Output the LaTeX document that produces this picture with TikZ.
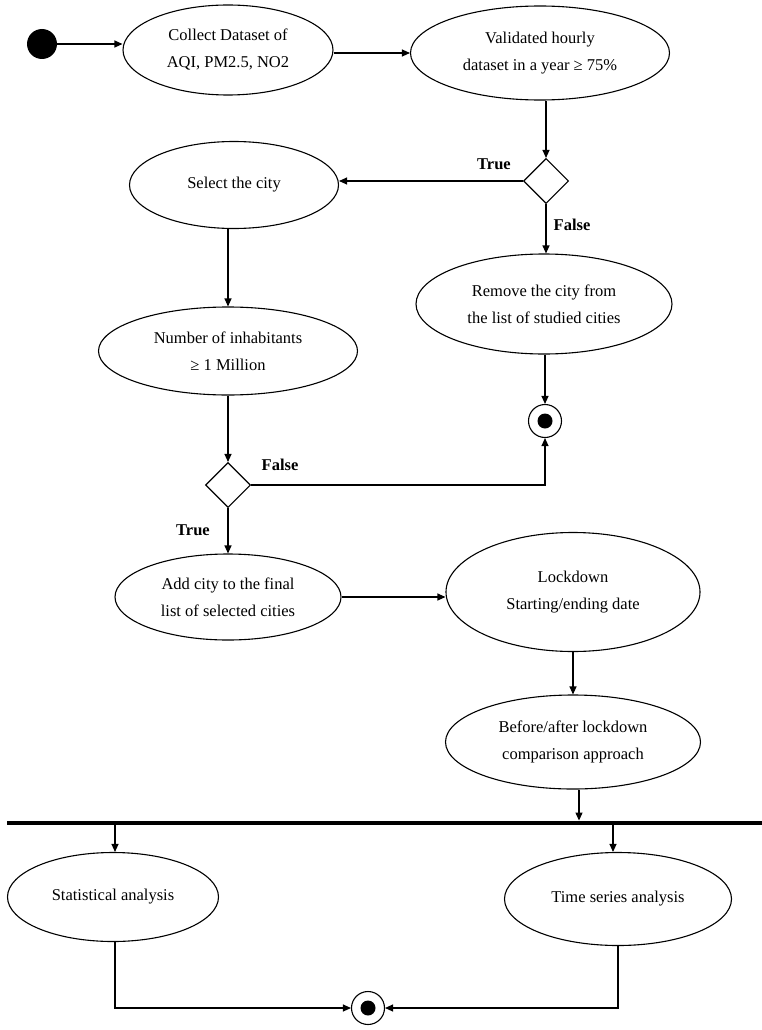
\documentclass[tikz,border=0pt]{standalone}
\usepackage{fontspec}
\setmainfont{Liberation Serif}
\usetikzlibrary{shapes.geometric,arrows.meta}
\tikzset{
  act/.style={ellipse, draw, line width=1.1pt, inner sep=0pt, align=center,
    font=\fontsize{16.5}{27}\selectfont},
  dec/.style={diamond, draw, line width=1.1pt, minimum width=45pt, minimum height=45pt, inner sep=0pt},
  endnode/.style={circle, draw, line width=1.1pt, minimum size=33pt, inner sep=0pt,
    path picture={\fill (path picture bounding box.center) circle (7.5pt);}},
  conn/.style={line width=1.1pt, -{Triangle[length=8pt,width=7pt]}},
  lbl/.style={font=\fontsize{16.5}{18}\selectfont\bfseries},
}
\begin{document}
\begin{tikzpicture}[x=1pt,y=-1pt]
\useasboundingbox (0,0) rectangle (762,1030);
\node[circle, fill=black, minimum size=30pt, inner sep=0pt] (start) at (42,44) {};
\node[act, minimum width=210pt, minimum height=90pt] (collect) at (228,50) {Collect Dataset of\\AQI, PM2.5, NO2};
\node[act, minimum width=259pt, minimum height=94pt] (valid) at (540,53) {Validated hourly\\dataset in a year ≥ 75\%};
\node[dec] (d1) at (546,181) {};
\node[act, minimum width=209pt, minimum height=87pt] (select) at (234,185) {Select the city};
\node[act, minimum width=256pt, minimum height=100pt] (remove) at (544,304) {Remove the city from\\the list of studied cities};
\node[endnode] (end1) at (545,421) {};
\node[act, minimum width=259pt, minimum height=88pt] (number) at (228,351) {Number of inhabitants\\≥ 1 Million};
\node[dec] (d2) at (228,485) {};
\node[act, minimum width=226pt, minimum height=86pt] (add) at (228,597) {Add city to the final\\list of selected cities};
\node[act, minimum width=254pt, minimum height=119pt] (lock) at (573,592) {Lockdown\\Starting/ending date};
\node[act, minimum width=255pt, minimum height=94pt] (before) at (573,742) {Before/after lockdown\\comparison approach};
\node[fill=black, minimum width=755pt, minimum height=4.5pt, inner sep=0pt] (bar) at (384.5,823) {};
\node[act, minimum width=211pt, minimum height=89pt] (stat) at (113,897) {Statistical analysis};
\node[act, minimum width=227pt, minimum height=93pt] (time) at (618,899) {Time series analysis};
\node[endnode] (end2) at (368,1008) {};

\draw[conn] (start.east) -- (start.east -| collect.west);
\draw[conn] (collect.east |- valid.west) -- (valid.west);
\draw[conn] (d1 |- valid.south) -- (d1.north);
\draw[conn] (d1.west) -- (d1.west -| select.east);
\draw[conn] (d1.south) -- (d1.south |- remove.north);
\draw[conn] (end1 |- remove.south) -- (end1.north);
\draw[conn] (number |- select.south) -- (number.north);
\draw[conn] (number.south) -- (d2.north);
\draw[conn] (d2.east) -| (end1.south);
\draw[conn] (d2.south) -- (add.north);
\draw[conn] (add.east) -- (add.east -| lock.west);
\draw[conn] (lock.south) -- (before.north);
\draw[conn] ([xshift=6pt]before.south) -- ([xshift=6pt]before.south |- bar.north);
\draw[conn] ([xshift=2pt]stat.north |- bar.south) -- ([xshift=2pt]stat.north);
\draw[conn] ([xshift=-5pt]time.north |- bar.south) -- ([xshift=-5pt]time.north);
\draw[conn] ([xshift=2pt]stat.south) |- (end2.west);
\draw[conn] (time.south) |- (end2.east);

\node[lbl] (t1) at (494,164) {True};
\node[lbl] (f1) at (572,225) {False};
\node[lbl] (f2) at (280,465) {False};
\node[lbl] (t2) at (193,530) {True};
\end{tikzpicture}
\end{document}
